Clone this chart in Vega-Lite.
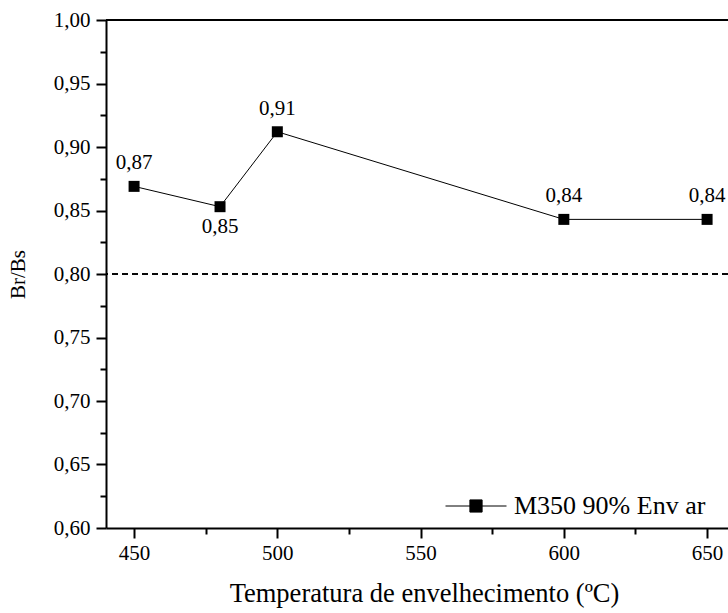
{
  "$schema": "https://vega.github.io/schema/vega-lite/v6.json",
  "width": 622,
  "height": 508,
  "autosize": {"type": "none"},
  "padding": {"left": 106, "top": 20, "right": 0, "bottom": 85},
  "background": "white",
  "config": {
    "view": {"stroke": null},
    "font": "Liberation Serif",
    "text": {"font": "Liberation Serif"},
    "legend": {"labelFont": "Liberation Serif"},
    "axis": {"labelFont": "Liberation Serif", "titleFont": "Liberation Serif", "labelColor": "black", "titleColor": "black", "titleFontWeight": "normal", "domainColor": "black", "tickColor": "black", "domainWidth": 2, "tickWidth": 2, "grid": false}
  },
  "data": {"values": [
    {"temp": 450, "ratio": 0.869, "lbl": "0,87", "serie": "M350 90% Env ar"},
    {"temp": 480, "ratio": 0.853, "lbl": "0,85", "serie": "M350 90% Env ar"},
    {"temp": 500, "ratio": 0.912, "lbl": "0,91", "serie": "M350 90% Env ar"},
    {"temp": 600, "ratio": 0.843, "lbl": "0,84", "serie": "M350 90% Env ar"},
    {"temp": 650, "ratio": 0.843, "lbl": "0,84", "serie": "M350 90% Env ar"}
  ]},
  "encoding": {
    "x": {"field": "temp", "type": "quantitative",
      "scale": {"domain": [440.2, 657.3], "nice": false, "zero": false},
      "axis": {"values": [450, 475, 500, 525, 550, 575, 600, 625, 650],
        "labelExpr": "datum.value % 50 === 0 ? datum.label : ''",
        "tickSize": {"condition": {"test": "datum.value % 50 === 0", "value": 10}, "value": 6},
        "labelFont": "Liberation Serif",
        "labelFontSize": 21, "labelPadding": 4, "labelFlush": false,
        "title": "Temperatura de envelhecimento (ºC)", "titleFont": "Liberation Serif", "titleFontSize": 26.5, "titlePadding": 17, "titleX": 318}},
    "y": {"field": "ratio", "type": "quantitative",
      "scale": {"domain": [0.6, 1.0], "nice": false, "zero": false},
      "axis": {"values": [0.6, 0.625, 0.65, 0.675, 0.7, 0.725, 0.75, 0.775, 0.8, 0.825, 0.85, 0.875, 0.9, 0.925, 0.95, 0.975, 1.0],
        "labelExpr": "round(datum.value*1000) % 50 === 0 ? replace(format(datum.value, '.2f'), '.', ',') : ''",
        "tickSize": {"condition": {"test": "round(datum.value*1000) % 50 === 0", "value": 10}, "value": 6},
        "labelFont": "Liberation Serif",
        "labelFontSize": 21, "labelPadding": 6, "labelFlush": false,
        "title": "Br/Bs", "titleFont": "Liberation Serif", "titleFontSize": 21, "titlePadding": 25}}
  },
  "layer": [
    {"mark": {"type": "rule", "color": "black", "strokeWidth": 1, "strokeDash": [6, 4]},
     "encoding": {"x": null, "y": {"datum": 0.8, "type": "quantitative"}}},
    {"mark": {"type": "rule", "color": "black", "strokeWidth": 2},
     "encoding": {"x": null, "y": {"datum": 1.0, "type": "quantitative"}}},
    {"mark": {"type": "line", "strokeWidth": 1},
     "encoding": {"color": {"field": "serie", "type": "nominal",
        "scale": {"range": ["black"]},
        "legend": {"orient": "none", "legendX": 339, "legendY": 455, "title": null, "padding": 0,
          "symbolType": "M-1,0L1,0M-0.2,-0.2L0.2,-0.2L0.2,0.2L-0.2,0.2Z",
          "symbolSize": 3721, "symbolFillColor": "black", "symbolStrokeColor": "black", "symbolStrokeWidth": 1, "symbolOpacity": 1,
          "labelFontSize": 26, "labelFont": "Liberation Serif", "labelColor": "black", "labelOffset": 7, "labelLimit": 400}}}},
    {"mark": {"type": "square", "size": 121, "color": "black", "opacity": 1}},
    {"transform": [{"filter": "datum.temp !== 480"}],
     "mark": {"type": "text", "font": "Liberation Serif", "fontSize": 21, "color": "black", "baseline": "alphabetic", "dy": -17},
     "encoding": {"text": {"field": "lbl"}}},
    {"transform": [{"filter": "datum.temp === 480"}],
     "mark": {"type": "text", "font": "Liberation Serif", "fontSize": 21, "color": "black", "baseline": "alphabetic", "dy": 26},
     "encoding": {"text": {"field": "lbl"}}}
  ]
}
